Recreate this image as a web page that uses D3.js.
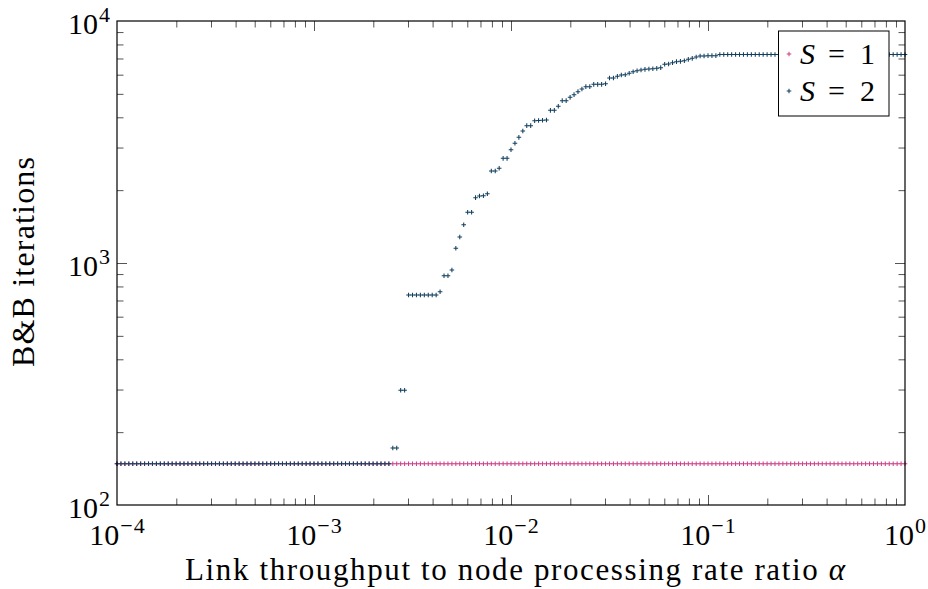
<!DOCTYPE html>
<html>
<head>
<meta charset="utf-8">
<script src="https://cdn.jsdelivr.net/npm/d3@7"></script>
<style>
  html, body { margin: 0; padding: 0; background: #fff; }
  svg { display: block; }
  text { font-family: "Liberation Serif", "Times New Roman", serif; fill: #000; }
</style>
</head>
<body>
<div id="chart"></div>
<script>
// ---------------- data ----------------
const seriesNames = ["S = 1", "S = 2"];
const xDomain = [1e-4, 1];
const yDomain = [1e2, 1e4];
const xTickExponents = [-4, -3, -2, -1, 0];
const yTickExponents = [2, 3, 4];
// alpha grid: 201 log-spaced samples from 1e-4 to 1
const alpha = d3.range(201).map(i => Math.pow(10, -4 + i / 50));

const s1Values = [
  148,148,148,148,148,148,148,148,148,148,148,148,148,148,148,148,148,148,148,148,
  148,148,148,148,148,148,148,148,148,148,148,148,148,148,148,148,148,148,148,148,
  148,148,148,148,148,148,148,148,148,148,148,148,148,148,148,148,148,148,148,148,
  148,148,148,148,148,148,148,148,148,148,148,148,148,148,148,148,148,148,148,148,
  148,148,148,148,148,148,148,148,148,148,148,148,148,148,148,148,148,148,148,148,
  148,148,148,148,148,148,148,148,148,148,148,148,148,148,148,148,148,148,148,148,
  148,148,148,148,148,148,148,148,148,148,148,148,148,148,148,148,148,148,148,148,
  148,148,148,148,148,148,148,148,148,148,148,148,148,148,148,148,148,148,148,148,
  148,148,148,148,148,148,148,148,148,148,148,148,148,148,148,148,148,148,148,148,
  148,148,148,148,148,148,148,148,148,148,148,148,148,148,148,148,148,148,148,148,
  148
];

const s2Values = [
  148,148,148,148,148,148,148,148,148,148,148,148,148,148,148,148,148,148,148,148,
  148,148,148,148,148,148,148,148,148,148,148,148,148,148,148,148,148,148,148,148,
  148,148,148,148,148,148,148,148,148,148,148,148,148,148,148,148,148,148,148,148,
  148,148,148,148,148,148,148,148,148,148,
  172,172,298,298,738,738,738,738,738,738,738,738,761,886,886,935,1150,1281,1439,1620,
  1620,1862,1892,1897,1934,2399,2399,2462,2707,2707,2939,3123,3306,3512,3694,3694,3873,3880,3890,3900,
  4274,4274,4441,4686,4686,4837,4961,5105,5236,5354,5354,5474,5474,5474,5508,5815,5815,5907,5983,5998,
  6080,6173,6233,6272,6313,6333,6353,6374,6414,6622,6643,6727,6791,6813,6855,6944,7010,7100,7168,7168,
  7190,7190,7190,
  7270,7270,7270,7270,7270,7270,7270,7270,7270,7270,7270,7270,7270,7270,7270,7270,7270,7270,7270,7270,
  7270,7270,7270,7270,7270,7270,7270,7270,7270,7270,7270,7270,7270,7270,7270,7270,7270,7270,7270,7270,
  7270,7270,7270,7270,7270,7270,7270,7270
];

const xLabel = "Link throughput to node processing rate ratio ";
const xLabelSymbol = "α";
const yLabel = "B&B iterations";

// ---------------- layout ----------------
const W = 928, H = 589;
const L = 117, R = 905, T = 21, B = 505;
const colors = ["#cc3f88", "#123f5e"];
const FS = 30;
const SUP = 22;

const svg = d3.select("#chart").append("svg").attr("width", W).attr("height", H);

const x = d3.scaleLog().domain(xDomain).range([L, R]);
const y = d3.scaleLog().domain(yDomain).range([B, T]);

function minorTicks(lo, hi) {
  const out = [];
  for (let e = lo; e < hi; e++) for (let k = 2; k <= 9; k++) out.push(k * Math.pow(10, e));
  return out;
}
const xMinor = minorTicks(-4, 0);
const yMinor = minorTicks(2, 4);
const xMajorInner = [1e-3, 1e-2, 1e-1];
const yMajorInner = [1e3];

const MINOR = 6.5, MAJOR = 10;
function tickAxis(axisFn, scale, vals, len, transform) {
  const g = svg.append("g").attr("transform", transform)
    .call(axisFn(scale).tickValues(vals).tickSize(-len).tickFormat(""));
  g.select(".domain").remove();
  g.selectAll(".tick line").attr("stroke", "#555").attr("stroke-width", 1);
  return g;
}
tickAxis(d3.axisBottom, x, xMinor, MINOR, `translate(0,${B})`);
tickAxis(d3.axisBottom, x, xMajorInner, MAJOR, `translate(0,${B})`);
tickAxis(d3.axisTop, x, xMinor, MINOR, `translate(0,${T})`);
tickAxis(d3.axisTop, x, xMajorInner, MAJOR, `translate(0,${T})`);
tickAxis(d3.axisLeft, y, yMinor, MINOR, `translate(${L},0)`);
tickAxis(d3.axisLeft, y, yMajorInner, MAJOR, `translate(${L},0)`);
tickAxis(d3.axisRight, y, yMinor, MINOR, `translate(${R},0)`);
tickAxis(d3.axisRight, y, yMajorInner, MAJOR, `translate(${R},0)`);

// markers
function cross(g, cx, cy, color) {
  const s = 2.3;
  g.append("path")
    .attr("d", `M${cx - s},${cy}H${cx + s}M${cx},${cy - s}V${cy + s}`)
    .attr("stroke", color).attr("stroke-width", 1.05).attr("fill", "none");
}
[s1Values, s2Values].forEach((vals, si) => {
  const g = svg.append("g");
  vals.forEach((v, i) => cross(g, x(alpha[i]), y(v), colors[si]));
});

// frame
svg.append("rect").attr("x", L).attr("y", T).attr("width", R - L).attr("height", B - T)
  .attr("fill", "none").attr("stroke", "#000").attr("stroke-width", 1.2);

// tick labels
function powLabel(sel, exp) {
  sel.append("tspan").text("10");
  if (exp < 0) {
    sel.append("tspan").attr("dy", -12).attr("dx", 1).attr("font-size", SUP).text("\u2212");
    sel.append("tspan").attr("dx", 1).attr("font-size", SUP).text(String(Math.abs(exp)));
  } else {
    sel.append("tspan").attr("dy", -12).attr("dx", 1).attr("font-size", SUP).text(String(exp));
  }
}
xTickExponents.forEach(e => {
  const t = svg.append("text").attr("x", x(Math.pow(10, e))).attr("y", 545)
    .attr("text-anchor", "middle").attr("font-size", FS);
  powLabel(t, e);
});
yTickExponents.forEach(e => {
  const t = svg.append("text").attr("x", 110).attr("y", y(Math.pow(10, e)) + 13)
    .attr("text-anchor", "end").attr("font-size", FS);
  powLabel(t, e);
});

// axis labels
const xl = svg.append("text").attr("x", (L + R) / 2 + 4).attr("y", 580)
  .attr("text-anchor", "middle").attr("font-size", 31)
  .attr("textLength", 660).attr("lengthAdjust", "spacing");
xl.append("tspan").text(xLabel);
xl.append("tspan").attr("font-style", "italic").text(xLabelSymbol);

svg.append("text").attr("transform", `translate(34,${(T + B) / 2 - 1}) rotate(-90)`)
  .attr("text-anchor", "middle").attr("font-size", 32)
  .attr("textLength", 210).attr("lengthAdjust", "spacing").text(yLabel);

// legend
const lg = svg.append("g");
lg.append("rect").attr("x", 778.5).attr("y", 31).attr("width", 110.5).attr("height", 85)
  .attr("fill", "#fff").attr("stroke", "#000").attr("stroke-width", 1);
const rows = [54, 91];
seriesNames.forEach((name, i) => {
  cross(lg, 789, rows[i], colors[i]);
  const parts = name.split(" = ");
  const t = lg.append("text").attr("y", rows[i] + 10).attr("font-size", FS);
  t.append("tspan").attr("x", 800).attr("font-style", "italic").text(parts[0]);
  t.append("tspan").attr("x", 828).text("=");
  t.append("tspan").attr("x", 860).text(parts[1]);
});
</script>
</body>
</html>
